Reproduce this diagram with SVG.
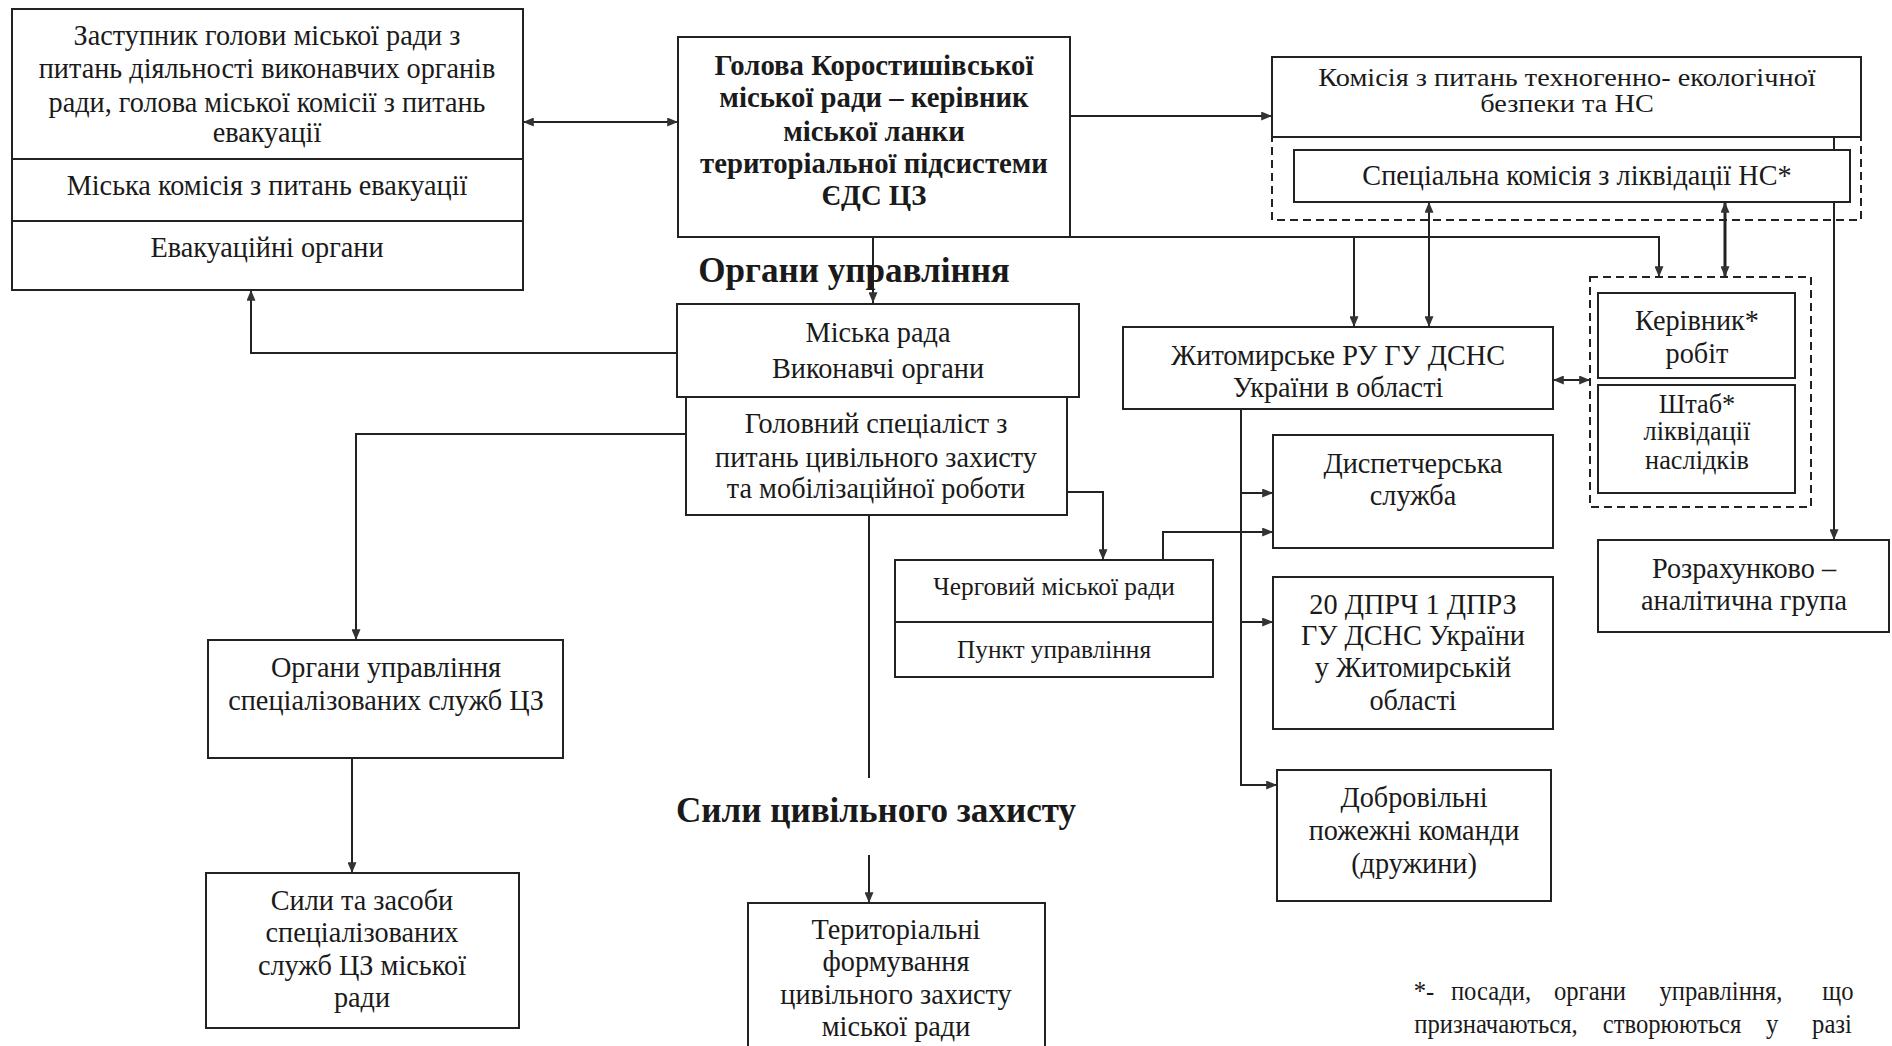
<svg xmlns="http://www.w3.org/2000/svg" width="1892" height="1046" viewBox="0 0 1892 1046">
<defs>
<marker id="ah" viewBox="0 0 12 10" refX="12" refY="5" markerWidth="11" markerHeight="9" markerUnits="userSpaceOnUse" orient="auto-start-reverse">
<path d="M0,0 L12,5 L0,10 z" fill="#333"/>
</marker>
<style>
.box{fill:#fff;stroke:#222;stroke-width:2}
.dash{fill:none;stroke:#222;stroke-width:2;stroke-dasharray:8 5}
.ln{fill:none;stroke:#222;stroke-width:2}
.t{font-family:"Liberation Serif","Times New Roman",serif;font-size:29px;fill:#1a1a1a;text-anchor:middle;transform-box:fill-box;transform-origin:center;transform:scaleX(0.975)}
.b{font-weight:bold;font-size:29.5px}
.h{font-size:36px;font-weight:bold}
.s{font-size:26px}
.k{font-size:26px;transform:scaleX(1.09)}
.w{font-size:27px}
.f{font-size:28px;transform:scaleX(0.88)}
</style>
</defs>
<rect width="1892" height="1046" fill="#fff"/>

<g id="connectors">
<line class="ln" x1="523" y1="122" x2="678" y2="122" marker-start="url(#ah)" marker-end="url(#ah)"/>
<line class="ln" x1="1070" y1="116" x2="1272" y2="116" marker-end="url(#ah)"/>
<polyline class="ln" points="1070,237 1659,237 1659,277" marker-end="url(#ah)"/>
<line class="ln" x1="1354" y1="237" x2="1354" y2="327" marker-end="url(#ah)"/>
<line class="ln" x1="1429" y1="202" x2="1429" y2="327" marker-start="url(#ah)" marker-end="url(#ah)"/>
<line class="ln" style="stroke-width:3" x1="1725" y1="202" x2="1725" y2="277" marker-start="url(#ah)" marker-end="url(#ah)"/>
<line class="ln" x1="1834" y1="137" x2="1834" y2="540" marker-end="url(#ah)"/>
<line class="ln" x1="873" y1="237" x2="873" y2="303" marker-end="url(#ah)"/>
<polyline class="ln" points="677,353 251,353 251,290" marker-end="url(#ah)"/>
<polyline class="ln" points="686,434 356,434 356,640" marker-end="url(#ah)"/>
<polyline class="ln" points="1067,492 1103,492 1103,560" marker-end="url(#ah)"/>
<polyline class="ln" points="1163,560 1163,532 1273,532" marker-end="url(#ah)"/>
<polyline class="ln" points="1241,409 1241,785 1277,785" marker-end="url(#ah)"/>
<line class="ln" x1="1241" y1="493" x2="1273" y2="493" marker-end="url(#ah)"/>
<line class="ln" x1="1241" y1="622" x2="1273" y2="622" marker-end="url(#ah)"/>
<line class="ln" x1="1553" y1="380" x2="1590" y2="380" marker-start="url(#ah)" marker-end="url(#ah)"/>
<line class="ln" x1="869" y1="515" x2="869" y2="778"/>
<line class="ln" x1="869" y1="855" x2="869" y2="903" marker-end="url(#ah)"/>
<line class="ln" x1="352" y1="758" x2="352" y2="873" marker-end="url(#ah)"/>
</g>

<g id="n-zastupnyk">
<rect class="box" x="12" y="9" width="511" height="281"/>
<line class="ln" x1="12" y1="159" x2="523" y2="159"/>
<line class="ln" x1="12" y1="221" x2="523" y2="221"/>
<text class="t" x="267" y="45">Заступник голови міської ради з</text>
<text class="t" x="267" y="78">питань діяльності виконавчих органів</text>
<text class="t" x="267" y="112">ради, голова міської комісії з питань</text>
<text class="t" x="267" y="142">евакуації</text>
<text class="t" x="267" y="195">Міська комісія з питань евакуації</text>
<text class="t" x="267" y="257">Евакуаційні органи</text>
</g>

<g id="n-holova">
<rect class="box" x="678" y="37" width="392" height="200"/>
<text class="t b" x="874" y="75">Голова Коростишівської</text>
<text class="t b" x="874" y="107">міської ради – керівник</text>
<text class="t b" x="874" y="141">міської ланки</text>
<text class="t b" x="874" y="173">територіальної підсистеми</text>
<text class="t b" x="874" y="205">ЄДС ЦЗ</text>
</g>

<g id="n-komisiia">
<rect class="box" x="1272" y="57" width="589" height="80"/>
<text class="t k" x="1567" y="86">Комісія з питань техногенно- екологічної</text>
<text class="t k" x="1567" y="112">безпеки та НС</text>
</g>

<g id="n-spec-group">
<rect class="dash" x="1272" y="137" width="589" height="83"/>
</g>

<g id="n-specialna">
<rect class="box" x="1294" y="150" width="556" height="52"/>
<text class="t" x="1577" y="185">Спеціальна комісія з ліквідації НС*</text>
</g>

<g id="h-orhany">
<text class="t h" x="854" y="282">Органи управління</text>
</g>

<g id="n-miska-rada">
<rect class="box" x="677" y="304" width="402" height="93"/>
<text class="t" x="878" y="342">Міська рада</text>
<text class="t" x="878" y="378">Виконавчі органи</text>
</g>

<g id="n-holovnyi">
<rect class="box" x="686" y="397" width="381" height="118"/>
<text class="t" x="876" y="433">Головний спеціаліст з</text>
<text class="t" x="876" y="467">питань цивільного захисту</text>
<text class="t" x="876" y="498">та мобілізаційної роботи</text>
</g>

<g id="n-zhytomyr">
<rect class="box" x="1123" y="327" width="430" height="82"/>
<text class="t" x="1338" y="365">Житомирське РУ ГУ ДСНС</text>
<text class="t" x="1338" y="397">України в області</text>
</g>

<g id="n-kerivnyk-group">
<rect class="dash" x="1590" y="277" width="221" height="230"/>
</g>

<g id="n-kerivnyk">
<rect class="box" x="1598" y="293" width="197" height="85"/>
<text class="t" x="1697" y="330">Керівник*</text>
<text class="t" x="1697" y="363">робіт</text>
</g>

<g id="n-shtab">
<rect class="box" x="1598" y="385" width="197" height="108"/>
<text class="t w" x="1697" y="413">Штаб*</text>
<text class="t w" x="1697" y="440">ліквідації</text>
<text class="t w" x="1697" y="469">наслідків</text>
</g>

<g id="n-rozrakhunkovo">
<rect class="box" x="1598" y="540" width="291" height="92"/>
<text class="t" x="1744" y="578">Розрахунково –</text>
<text class="t" x="1744" y="610">аналітична група</text>
</g>

<g id="n-dyspetcherska">
<rect class="box" x="1273" y="435" width="280" height="113"/>
<text class="t" x="1413" y="473">Диспетчерська</text>
<text class="t" x="1413" y="505">служба</text>
</g>

<g id="n-chergovyi">
<rect class="box" x="895" y="560" width="318" height="117"/>
<line class="ln" x1="895" y1="622" x2="1213" y2="622"/>
<text class="t s" x="1054" y="595">Черговий міської ради</text>
<text class="t s" x="1054" y="658">Пункт управління</text>
</g>

<g id="n-dprch">
<rect class="box" x="1273" y="577" width="280" height="152"/>
<text class="t" x="1413" y="614">20 ДПРЧ 1 ДПРЗ</text>
<text class="t" x="1413" y="645">ГУ ДСНС України</text>
<text class="t" x="1413" y="677">у Житомирській</text>
<text class="t" x="1413" y="710">області</text>
</g>

<g id="n-dobrovilni">
<rect class="box" x="1277" y="770" width="274" height="131"/>
<text class="t" x="1414" y="807">Добровільні</text>
<text class="t" x="1414" y="840">пожежні команди</text>
<text class="t" x="1414" y="873">(дружини)</text>
</g>

<g id="n-orhany-spec">
<rect class="box" x="208" y="640" width="355" height="118"/>
<text class="t" x="386" y="677">Органи управління</text>
<text class="t" x="386" y="710">спеціалізованих служб ЦЗ</text>
</g>

<g id="n-syly-zasoby">
<rect class="box" x="206" y="873" width="313" height="155"/>
<text class="t" x="362" y="910">Сили та засоби</text>
<text class="t" x="362" y="942">спеціалізованих</text>
<text class="t" x="362" y="975">служб ЦЗ міської</text>
<text class="t" x="362" y="1007">ради</text>
</g>

<g id="h-syly">
<text class="t h" x="876" y="822">Сили цивільного захисту</text>
</g>

<g id="n-terytorialni">
<rect class="box" x="748" y="903" width="297" height="160"/>
<text class="t" x="896" y="939">Територіальні</text>
<text class="t" x="896" y="971">формування</text>
<text class="t" x="896" y="1004">цивільного захисту</text>
<text class="t" x="896" y="1036">міської ради</text>
</g>

<g id="footnote">
<text class="t f" x="1424" y="1000">*-</text>
<text class="t f" x="1491" y="1000">посади,</text>
<text class="t f" x="1590" y="1000">органи</text>
<text class="t f" x="1721" y="1000">управління,</text>
<text class="t f" x="1838" y="1000">що</text>
<text class="t f" x="1496" y="1033">призначаються,</text>
<text class="t f" x="1672" y="1033">створюються</text>
<text class="t f" x="1772" y="1033">у</text>
<text class="t f" x="1832" y="1033">разі</text>
</g>
</svg>
